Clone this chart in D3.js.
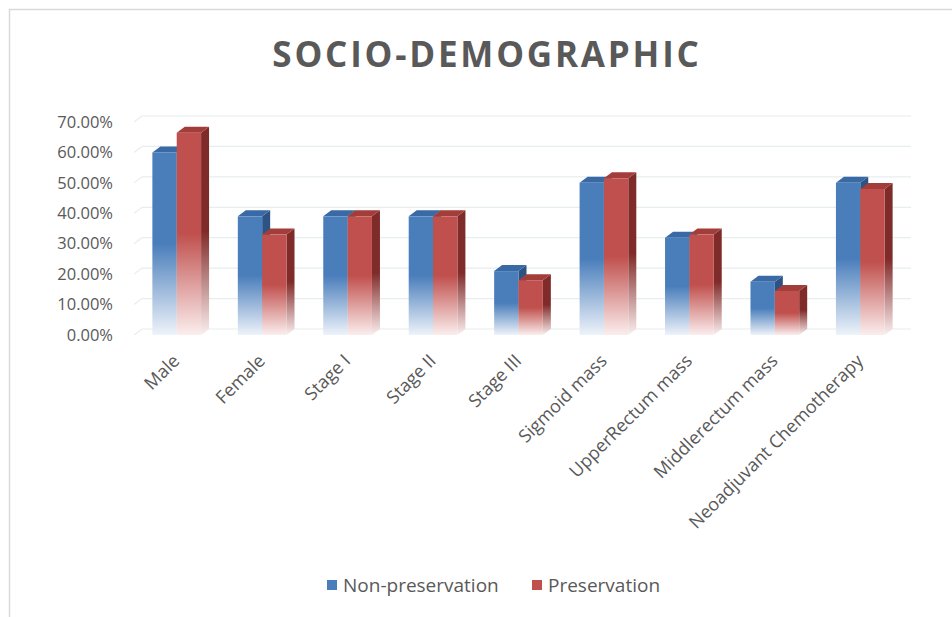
<!DOCTYPE html>
<html>
<head>
<meta charset="utf-8">
<script src="https://cdn.jsdelivr.net/npm/d3@7"></script>
<style>
  body { margin: 0; background: #fff; }
  text { font-family: "Open Sans", "DejaVu Sans", sans-serif; fill: #595959; }
</style>
</head>
<body>
<div id="chart"></div>
<script>
// chart values
let categories = ["Male", "Female", "Stage I", "Stage II", "Stage III",
  "Sigmoid mass", "UpperRectum mass", "Middlerectum mass", "Neoadjuvant Chemotherapy"];
let nonPreservation = [0.60, 0.39, 0.39, 0.39, 0.21, 0.50, 0.32, 0.175, 0.50];
let preservation = [0.665, 0.33, 0.39, 0.39, 0.18, 0.515, 0.33, 0.145, 0.48];
let seriesNames = ["Non-preservation", "Preservation"];
let yTicks = [0, 0.1, 0.2, 0.3, 0.4, 0.5, 0.6, 0.7];

let width = 952, height = 617;
let depth = { dx: 8, dy: -6 };

let svg = d3.select('#chart').append('svg')
  .attr('width', width)
  .attr('height', height);

// outer chart border (only top/left show in the picture)
svg.append('path')
  .attr('d', 'M 9.5 620 L 9.5 9.5 L 960 9.5')
  .attr('fill', 'none')
  .attr('stroke', '#d9d9d9')
  .attr('stroke-width', 1.5);

let x = d3.scaleBand()
  .domain(categories)
  .range([134, 903])
  .paddingInner(0.43)
  .paddingOuter(0.215);

let y = d3.scaleLinear()
  .domain([0, 0.7])
  .range([335, 122]);

let colors = [
  { front: "#4a7ebb", top: "#3a6aa5", side: "#2c5384", fade: "#eef3fa" },
  { front: "#c0504d", top: "#a33d3a", side: "#7f2b29", fade: "#fbeeee" }
];

let defs = svg.append('defs');
colors.forEach(function(c, i) {
  let g = defs.append('linearGradient')
    .attr('id', 'grad' + i)
    .attr('x1', 0).attr('y1', 0).attr('x2', 0).attr('y2', 1);
  g.append('stop').attr('offset', '0').attr('stop-color', c.front);
  g.append('stop').attr('offset', '0.5').attr('stop-color', c.front);
  g.append('stop').attr('offset', '1').attr('stop-color', c.fade);
  let s = defs.append('linearGradient')
    .attr('id', 'side' + i)
    .attr('x1', 0).attr('y1', 0).attr('x2', 0).attr('y2', 1);
  s.append('stop').attr('offset', '0').attr('stop-color', c.side);
  s.append('stop').attr('offset', '0.5').attr('stop-color', c.side);
  s.append('stop').attr('offset', '1').attr('stop-color', c.fade);
});

// gridlines on the back wall with a short slanted piece at the left
svg.append('g').selectAll('path.grid')
  .data(yTicks)
  .enter().append('path')
  .attr('class', 'grid')
  .attr('fill', 'none')
  .attr('stroke', '#e6eef0')
  .attr('stroke-width', 1.2)
  .attr('d', function(d) {
    let yy = y(d);
    return `M 134 ${yy} L ${134 + depth.dx} ${yy + depth.dy} L ${903 + depth.dx} ${yy + depth.dy}`;
  });

// y axis labels
svg.append('g').selectAll('text.ytick')
  .data(yTicks)
  .enter().append('text')
  .attr('class', 'ytick')
  .attr('x', 113)
  .attr('y', function(d) { return y(d); })
  .attr('dy', '0.35em')
  .attr('text-anchor', 'end')
  .style('font-size', '16.5px')
  .text(function(d) { return d3.format('.2%')(d); });

// bars
let barW = x.bandwidth() / 2;
let series = [nonPreservation, preservation];
let barsG = svg.append('g');

series.forEach(function(values, si) {
  let c = colors[si];
  let g = barsG.append('g');
  let data = categories.map(function(cat, i) { return { cat: cat, v: values[i] }; });
  let bars = g.selectAll('g.bar').data(data).enter().append('g').attr('class', 'bar');

  // side face
  bars.append('path')
    .attr('fill', 'url(#side' + si + ')')
    .attr('d', function(d) {
      let x1 = x(d.cat) + barW * (si + 1), y0 = y(0), y1 = y(d.v);
      return `M ${x1} ${y1} L ${x1 + depth.dx} ${y1 + depth.dy} L ${x1 + depth.dx} ${y0 + depth.dy} L ${x1} ${y0} Z`;
    });
  // top face
  bars.append('path')
    .attr('fill', c.top)
    .attr('d', function(d) {
      let x0 = x(d.cat) + barW * si, x1 = x0 + barW, y1 = y(d.v);
      return `M ${x0} ${y1} L ${x0 + depth.dx} ${y1 + depth.dy} L ${x1 + depth.dx} ${y1 + depth.dy} L ${x1} ${y1} Z`;
    });
  // front face
  bars.append('rect')
    .attr('x', function(d) { return x(d.cat) + barW * si; })
    .attr('y', function(d) { return y(d.v); })
    .attr('width', barW)
    .attr('height', function(d) { return y(0) - y(d.v); })
    .attr('fill', 'url(#grad' + si + ')');
});

// rotated category labels
svg.append('g').selectAll('text.xtick')
  .data(categories)
  .enter().append('text')
  .attr('class', 'xtick')
  .attr('text-anchor', 'end')
  .style('font-size', '18px')
  .attr('transform', function(d) {
    let cx = x(d) + x.bandwidth() / 2 + 4;
    return `translate(${cx},${362}) rotate(-45)`;
  })
  .text(function(d) { return d; });

// title
svg.append('text')
  .attr('x', 487)
  .attr('y', 67)
  .attr('text-anchor', 'middle')
  .style('font-size', '35px')
  .style('font-weight', 700)
  .style('letter-spacing', '2.8px')
  .text('SOCIO-DEMOGRAPHIC');

// legend
let legendX = [327, 532];
let legend = svg.append('g').selectAll('g.legend')
  .data(seriesNames)
  .enter().append('g')
  .attr('class', 'legend')
  .attr('transform', function(d, i) { return `translate(${legendX[i]},${585})`; });

legend.append('rect')
  .attr('x', 0).attr('y', -5)
  .attr('width', 10).attr('height', 10)
  .attr('fill', function(d, i) { return colors[i].front; });

legend.append('text')
  .attr('x', 16)
  .attr('dy', '0.35em')
  .style('font-size', '19px')
  .text(function(d) { return d; });
</script>
</body>
</html>
